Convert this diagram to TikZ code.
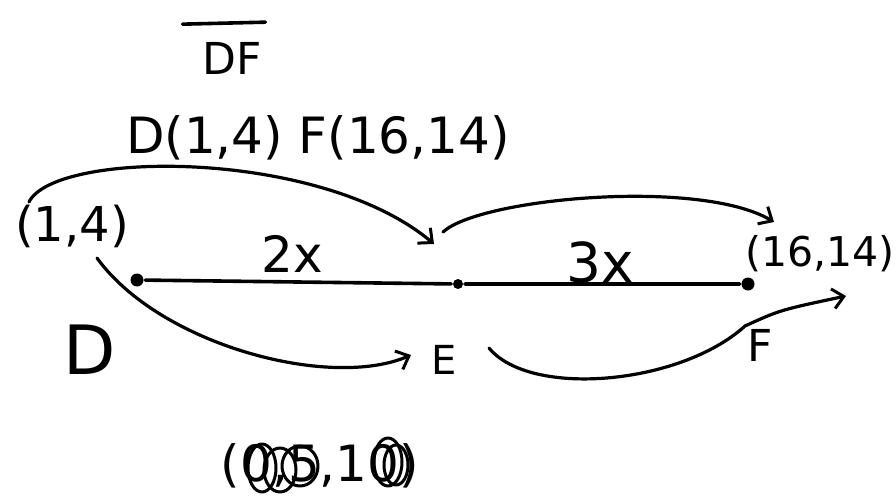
\documentclass[tikz,border=0pt]{standalone}
\usepackage{fontspec}
\setmainfont{DejaVu Sans}
\usetikzlibrary{arrows.meta}
\begin{document}
\begin{tikzpicture}[x=1pt,y=-1pt, line width=3.6pt, line cap=round, line join=round,
  lbl/.style={inner sep=0pt, font=\fontsize{#1}{#1}\selectfont},
  lbl/.default=44,
  conn/.style={-{Straight Barb[length=11pt,width=20pt,line width=3pt]}, line width=3.2pt},
  dot/.style={circle, fill=black, inner sep=0pt, minimum size=#1},
  dot/.default=13pt,
  scrib/.style={line width=3pt}]
\useasboundingbox (0,0) rectangle (896,500);
% title
\node[lbl=44] (df) at (232,58) {DF};
\draw ([xshift=-18pt,yshift=16pt]df.north west) -- ([xshift=2pt,yshift=18pt]df.north east);
\node[lbl=50] (coords) at (318,138) {D(1,4) F(16,14)};
% points
\node[dot] (D) at (137,280) {};
\node[dot=10pt] (E) at (458,284) {};
\node[dot] (F) at (748,284) {};
\draw (D) -- (E) -- (F);
% labels
\node[lbl=48] (d14) at (72,226) {(1,4)};
\node[lbl=50] (twox) at (292,254) {2x};
\node[lbl=55] (threex) at (600,262) {3x};
\node[lbl=41] (f1614) at (820,254) {(16,14)};
\node[lbl=68] (Dl) at (90,350) {D};
\node[lbl=40] (El) at (444,360) {E};
\node[lbl=44] (Fl) at (760,345) {F};
% arrows
\coordinate (a1s) at (29,202);
\coordinate (a1e) at (434,244);
\draw[conn] (a1s) .. controls (55,150) and (320,148) .. (a1e);
\coordinate (a2s) at (443,232);
\coordinate (a2e) at (774,222);
\draw[conn] (a2s) .. controls (480,198) and (700,178) .. (a2e);
\coordinate (a3s) at (97,258);
\coordinate (a3e) at (411,355);
\draw[conn] (a3s) .. controls (160,345) and (330,390) .. (a3e);
\coordinate (a4s) at (489,348);
\coordinate (a4m) at (745,326);
\coordinate (a4e) at (846,296);
\draw[conn] (a4s) .. controls (530,398) and (680,385) .. (a4m) .. controls (780,310) .. (a4e);
% scribble
\node[lbl=50] (scr) at (320,466) {(0,5,10)};
\draw[scrib] (262,468) ellipse (14pt and 24pt);
\draw[scrib] (280,470) ellipse (16pt and 22pt);
\draw[scrib] (300,466) ellipse (18pt and 20pt);
\draw[scrib] (388,462) ellipse (14pt and 24pt);
\draw[scrib] (396,465) ellipse (12pt and 20pt);
\end{tikzpicture}
\end{document}
